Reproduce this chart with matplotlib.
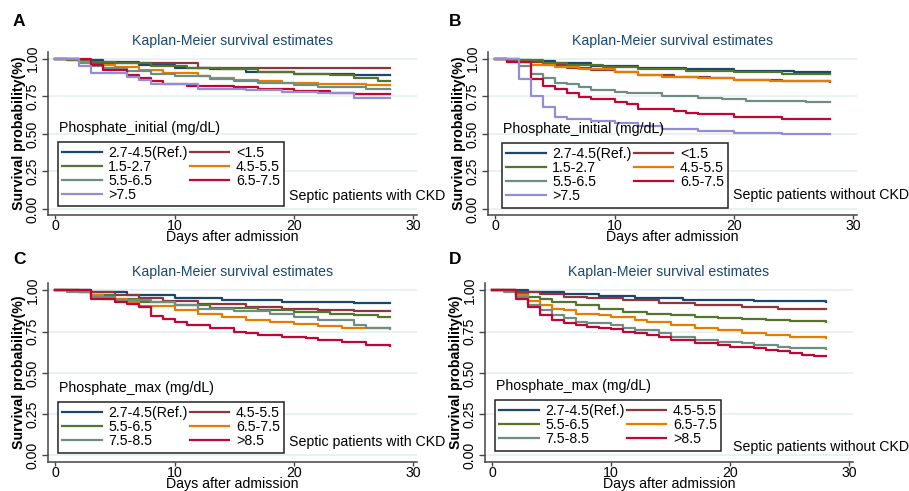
import matplotlib
matplotlib.use('Agg')
import matplotlib.pyplot as plt

plt.rcParams['font.family'] = ['Liberation Sans', 'DejaVu Sans']
plt.rcParams['font.size'] = 10.2

W, H = 909, 491

# Stata s2color palette
colors = ['#1a476f', '#90353b', '#55752f', '#e37e00', '#6e8e84', '#c10534', '#938dd2']

# ---- data: (day, survival) steps ----
# Panel A: phosphate_initial, with CKD
a_labels = ['2.7-4.5(Ref.)', '<1.5', '1.5-2.7', '4.5-5.5', '5.5-6.5', '6.5-7.5', '>7.5']
a_ref = [(0, 1), (2, 0.99), (4, 0.98), (7, 0.96), (10, 0.94), (13, 0.93), (16, 0.915), (20, 0.90), (25, 0.893), (28, 0.893)]
a_lt15 = [(0, 1), (1, 0.99), (3, 0.97), (12, 0.94), (28, 0.94)]
a_15_27 = [(0, 1), (1, 0.995), (3, 0.98), (5, 0.97), (8, 0.955), (11, 0.94), (14, 0.93), (17, 0.915), (20, 0.90), (23, 0.89), (25, 0.87), (27, 0.855), (28, 0.855)]
a_45_55 = [(0, 1), (2, 0.98), (3, 0.96), (5, 0.945), (7, 0.925), (9, 0.905), (12, 0.885), (13, 0.87), (15, 0.86), (17, 0.85), (19, 0.84), (22, 0.83), (26, 0.825), (28, 0.825)]
a_55_65 = [(0, 1), (2, 0.975), (3, 0.95), (4, 0.94), (6, 0.92), (8, 0.90), (10, 0.885), (13, 0.865), (15, 0.85), (17, 0.84), (20, 0.825), (22, 0.815), (26, 0.80), (28, 0.80)]
a_65_75 = [(0, 1), (3, 0.96), (4, 0.925), (6, 0.89), (7, 0.875), (8, 0.855), (9, 0.835), (11, 0.82), (15, 0.81), (17, 0.80), (20, 0.785), (23, 0.77), (25, 0.765), (28, 0.765)]
a_gt75 = [(0, 1), (2, 0.95), (3, 0.905), (6, 0.88), (7, 0.86), (8, 0.83), (12, 0.80), (16, 0.79), (19, 0.78), (22, 0.77), (25, 0.74), (28, 0.74)]

# Panel B: phosphate_initial, without CKD
b_ref = [(0, 1), (1, 0.995), (3, 0.985), (5, 0.97), (8, 0.955), (12, 0.94), (16, 0.93), (20, 0.92), (25, 0.913), (28, 0.913)]
b_lt15 = [(0, 1), (1, 0.99), (2, 0.98), (4, 0.96), (6, 0.94), (8, 0.925), (10, 0.91), (12, 0.895), (15, 0.88), (18, 0.87), (20, 0.86), (24, 0.85), (28, 0.847)]
b_15_27 = [(0, 1), (2, 0.99), (4, 0.975), (6, 0.96), (9, 0.945), (12, 0.93), (16, 0.92), (20, 0.91), (24, 0.90), (28, 0.898)]
b_45_55 = [(0, 1), (1, 0.98), (3, 0.96), (5, 0.945), (7, 0.93), (10, 0.91), (12, 0.895), (14, 0.88), (17, 0.87), (20, 0.86), (23, 0.855), (28, 0.85)]
b_55_65 = [(0, 1), (2, 0.95), (3, 0.90), (4, 0.87), (5, 0.84), (6, 0.83), (7, 0.81), (8, 0.795), (10, 0.78), (11, 0.77), (14, 0.755), (17, 0.74), (19, 0.73), (21, 0.72), (26, 0.715), (28, 0.715)]
b_65_75 = [(0, 1), (1, 0.98), (3, 0.865), (4, 0.82), (5, 0.80), (6, 0.775), (7, 0.745), (8, 0.73), (10, 0.715), (11, 0.70), (12, 0.665), (15, 0.65), (16, 0.64), (17, 0.63), (20, 0.612), (24, 0.60), (28, 0.60)]
b_gt75 = [(0, 1), (2, 0.865), (3, 0.75), (4, 0.68), (5, 0.61), (6, 0.60), (8, 0.585), (10, 0.57), (12, 0.555), (14, 0.535), (17, 0.52), (20, 0.505), (24, 0.498), (28, 0.498)]

# Panel C: phosphate_max, with CKD
c_labels = ['2.7-4.5(Ref.)', '4.5-5.5', '5.5-6.5', '6.5-7.5', '7.5-8.5', '>8.5']
c_ref = [(0, 1), (3, 0.99), (6, 0.97), (10, 0.952), (14, 0.94), (19, 0.93), (25, 0.924), (28, 0.924)]
c_45_55 = [(0, 1), (3, 0.99), (5, 0.97), (7, 0.955), (9, 0.935), (12, 0.915), (16, 0.90), (19, 0.89), (22, 0.88), (25, 0.875), (28, 0.875)]
c_55_65 = [(0, 1), (2, 0.99), (3, 0.97), (5, 0.95), (7, 0.93), (10, 0.91), (13, 0.895), (17, 0.88), (20, 0.87), (23, 0.86), (25, 0.85), (27, 0.84), (28, 0.84)]
c_65_75 = [(0, 1), (2, 0.99), (3, 0.97), (4, 0.95), (6, 0.93), (7, 0.905), (10, 0.88), (12, 0.86), (14, 0.84), (16, 0.82), (18, 0.81), (20, 0.795), (22, 0.785), (24, 0.77), (28, 0.765)]
c_75_85 = [(0, 1), (1, 0.99), (3, 0.96), (5, 0.94), (8, 0.93), (10, 0.91), (12, 0.89), (15, 0.875), (18, 0.86), (20, 0.84), (22, 0.82), (25, 0.79), (26, 0.773), (28, 0.773)]
c_gt85 = [(0, 1), (3, 0.95), (5, 0.93), (6, 0.92), (7, 0.90), (8, 0.843), (9, 0.825), (10, 0.81), (11, 0.79), (13, 0.77), (15, 0.75), (16, 0.74), (17, 0.73), (19, 0.72), (21, 0.71), (22, 0.70), (24, 0.685), (26, 0.67), (28, 0.663)]

# Panel D: phosphate_max, without CKD
d_ref = [(0, 1), (3, 0.99), (6, 0.98), (9, 0.965), (12, 0.952), (16, 0.942), (22, 0.935), (28, 0.93)]
d_45_55 = [(0, 1), (2, 0.99), (4, 0.98), (6, 0.963), (8, 0.952), (11, 0.94), (14, 0.925), (17, 0.912), (21, 0.90), (24, 0.89), (28, 0.888)]
d_55_65 = [(0, 1), (2, 0.98), (3, 0.96), (4, 0.95), (5, 0.93), (7, 0.91), (9, 0.89), (11, 0.872), (13, 0.86), (15, 0.85), (17, 0.84), (19, 0.83), (21, 0.825), (23, 0.82), (25, 0.815), (28, 0.811)]
d_65_75 = [(0, 1), (2, 0.97), (3, 0.935), (4, 0.91), (5, 0.89), (6, 0.88), (7, 0.86), (9, 0.85), (10, 0.84), (12, 0.82), (13, 0.81), (15, 0.79), (17, 0.77), (19, 0.76), (21, 0.74), (23, 0.73), (25, 0.72), (28, 0.71)]
d_75_85 = [(0, 1), (1, 0.99), (2, 0.96), (3, 0.91), (4, 0.88), (5, 0.85), (6, 0.83), (7, 0.81), (8, 0.80), (10, 0.79), (11, 0.77), (12, 0.76), (14, 0.74), (15, 0.72), (17, 0.70), (19, 0.69), (21, 0.68), (22, 0.67), (24, 0.66), (25, 0.65), (28, 0.643)]
d_gt85 = [(0, 1), (2, 0.95), (3, 0.90), (4, 0.85), (5, 0.82), (6, 0.80), (7, 0.79), (8, 0.78), (9, 0.775), (10, 0.765), (11, 0.75), (12, 0.74), (13, 0.73), (14, 0.72), (15, 0.70), (17, 0.68), (19, 0.67), (20, 0.66), (22, 0.65), (23, 0.64), (24, 0.63), (25, 0.62), (26, 0.61), (27, 0.60), (28, 0.60)]

yticks = [0, 0.25, 0.5, 0.75, 1.0]
xticks = [0, 10, 20, 30]


def px_axes(fig, x0, y0, x1, y1):
    return fig.add_axes([x0 / W, 1 - y1 / H, (x1 - x0) / W, (y1 - y0) / H])


def km_panel(ax, curves, labels, leg_title, leg_xy, note, note_xy, letter, letter_xy):
    ax.set_xlim(-0.6, 30.3)
    ax.set_ylim(-0.04, 1.045)
    for y in yticks:
        ax.axhline(y, color='#e6eff1', lw=1.2, zorder=0)
    lines = []
    for c, col in zip(curves, colors):
        t = [p[0] for p in c]
        s = [p[1] for p in c]
        ln, = ax.plot(t, s, drawstyle='steps-post', color=col, lw=1.6)
        lines.append(ln)
    for sp in ['top', 'right']:
        ax.spines[sp].set_visible(False)
    for sp in ['left', 'bottom']:
        ax.spines[sp].set_color('#444444')
        ax.spines[sp].set_linewidth(1.1)
    ax.set_yticks(yticks)
    ax.set_yticklabels(['%.2f' % v for v in yticks])
    ax.set_xticks(xticks)
    ax.tick_params(axis='y', direction='out', length=4.5, width=1, color='#444444', pad=1.5)
    ax.tick_params(axis='x', direction='out', length=3, width=1, color='#444444', pad=0)
    for lbl in ax.get_yticklabels():
        lbl.set_rotation(90)
        lbl.set_va('center')
    ax.set_ylabel('Survival probability(%)', fontweight='bold', labelpad=0)
    ax.set_xlabel('Days after admission', labelpad=-2.5)
    ax.set_title('Kaplan-Meier survival estimates', color='#1a476f', pad=5, fontsize=10.2)

    # row-major order for a 2-column legend
    n = len(lines)
    order = list(range(0, n, 2)) + list(range(1, n, 2))
    fig = ax.figure
    ax.legend([lines[i] for i in order], [labels[i] for i in order], ncol=2,
              loc='upper left', bbox_to_anchor=(leg_xy[0] / W, 1 - leg_xy[1] / H),
              bbox_transform=fig.transFigure, borderaxespad=0, frameon=True,
              fancybox=False, edgecolor='#222222', framealpha=1,
              handlelength=2.8, handletextpad=0.45, columnspacing=0.15,
              labelspacing=0.0, borderpad=0.3)
    ax.get_legend().get_frame().set_linewidth(1.1)
    fig.text(leg_xy[0] / W + 0.001, 1 - (leg_xy[1] - 14) / H, leg_title, va='center', ha='left')
    fig.text(note_xy[0] / W, 1 - note_xy[1] / H, note, va='center', ha='left')
    fig.text(letter_xy[0] / W, 1 - letter_xy[1] / H, letter, va='center', ha='left',
             fontweight='bold', fontsize=12.5)


fig = plt.figure(figsize=(W / 100, H / 100), dpi=100)

axA = px_axes(fig, 48, 52, 417, 215)
km_panel(axA, [a_ref, a_lt15, a_15_27, a_45_55, a_55_65, a_65_75, a_gt75], a_labels,
         'Phosphate_initial (mg/dL)', (58, 142), 'Septic patients with CKD', (289, 196),
         'A', (13, 21))

axB = px_axes(fig, 488, 52, 857, 215)
km_panel(axB, [b_ref, b_lt15, b_15_27, b_45_55, b_55_65, b_65_75, b_gt75], a_labels,
         'Phosphate_initial (mg/dL)', (502, 143), 'Septic patients without CKD', (733, 195),
         'B', (449, 21))

axC = px_axes(fig, 48, 283, 417, 462)
km_panel(axC, [c_ref, c_45_55, c_55_65, c_65_75, c_75_85, c_gt85], c_labels,
         'Phosphate_max (mg/dL)', (58, 402), 'Septic patients with CKD', (289, 442),
         'C', (13, 260))

axD = px_axes(fig, 485, 283, 853, 462)
km_panel(axD, [d_ref, d_45_55, d_55_65, d_65_75, d_75_85, d_gt85], c_labels,
         'Phosphate_max (mg/dL)', (495, 400), 'Septic patients without CKD', (733, 447),
         'D', (449, 260))

fig.savefig('out.png', dpi=100)
